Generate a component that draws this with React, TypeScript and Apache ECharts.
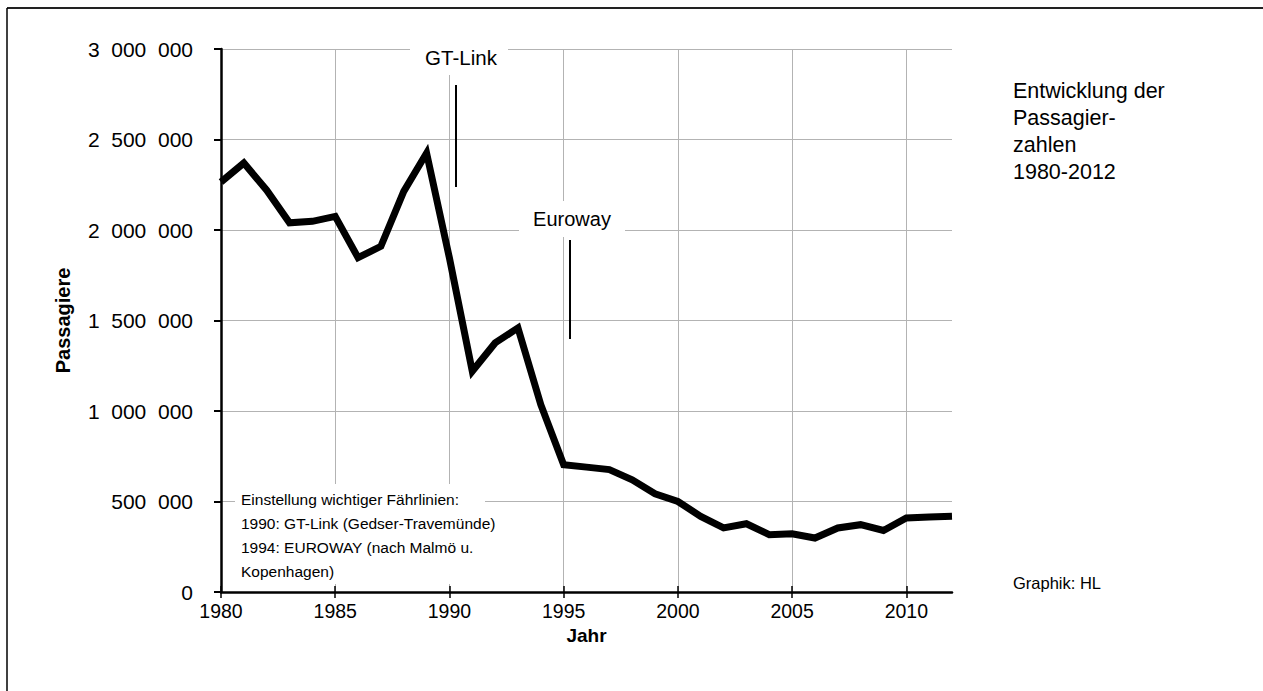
import React, { useEffect, useRef } from "react";
import * as echarts from "echarts";

const years: string[] = [
  "1980","1981","1982","1983","1984","1985","1986","1987","1988","1989",
  "1990","1991","1992","1993","1994","1995","1996","1997","1998","1999",
  "2000","2001","2002","2003","2004","2005","2006","2007","2008","2009",
  "2010","2011","2012",
];
const passengers: number[] = [
  2265000, 2370000, 2220000, 2040000, 2048000, 2075000, 1847000, 1910000, 2213000, 2425000,
  1845000, 1220000, 1376000, 1459000, 1035000, 703000, 690000, 676000, 620000, 543000,
  500000, 418000, 354000, 377000, 317000, 322000, 298000, 354000, 372000, 340000,
  409000, 414000, 418000,
];
const yTicks = { min: 0, max: 3000000, interval: 500000 };
const titleLines = ["Entwicklung der", "Passagier-", "zahlen", "1980-2012"];
const noteLines = [
  "Einstellung wichtiger Fährlinien:",
  "1990: GT-Link (Gedser-Travemünde)",
  "1994: EUROWAY (nach Malmö u.",
  "Kopenhagen)",
];
const credit = "Graphik: HL";
const xName = "Jahr";
const yName = "Passagiere";

const FONT = "'Liberation Sans', Arial, sans-serif";
const GAP = "\u00a0\u00a0";

function fmt(v: number): string {
  const s = String(Math.round(v));
  const parts: string[] = [];
  for (let i = s.length; i > 0; i -= 3) parts.unshift(s.slice(Math.max(0, i - 3), i));
  return parts.join(GAP);
}

export default function App() {
  const ref = useRef<HTMLDivElement>(null);
  useEffect(() => {
    document.body.style.margin = "0";
    const chart = echarts.init(ref.current!, undefined, { renderer: "svg" });
    const axisText = { color: "#000", fontFamily: FONT, fontSize: 19.5 };
    chart.setOption({
      animation: false,
      backgroundColor: "#fff",
      grid: { left: 221, right: 311, top: 49, bottom: 99, containLabel: false, outerBoundsMode: "none" },
      xAxis: [
        {
          type: "category",
          data: years,
          boundaryGap: false,
          name: xName,
          nameLocation: "middle",
          nameGap: 29,
          nameTextStyle: { ...axisText, fontSize: 19, fontWeight: "bold" },
          axisLine: { lineStyle: { color: "#000", width: 2.5 } },
          axisTick: { interval: 4, inside: false, length: 6, lineStyle: { color: "#000", width: 1.5 } },
          axisLabel: { interval: 4, margin: 9, ...axisText },
          splitLine: { show: true, interval: 4, lineStyle: { color: "#b3b3b3", width: 1 } },
        },
        {
          type: "category",
          data: years,
          boundaryGap: false,
          position: "bottom",
          axisLine: { show: false },
          axisTick: { interval: 4, inside: true, length: 6, lineStyle: { color: "#000", width: 1.5 } },
          axisLabel: { show: false },
          splitLine: { show: false },
        },
      ],
      yAxis: {
        type: "value",
        min: yTicks.min,
        max: yTicks.max,
        interval: yTicks.interval,
        name: yName,
        nameLocation: "middle",
        nameGap: 148,
        nameRotate: 90,
        nameTextStyle: { ...axisText, fontSize: 20, fontWeight: "bold" },
        axisLine: { show: true, lineStyle: { color: "#000", width: 2.5 } },
        axisTick: { show: true, inside: false, length: 7, lineStyle: { color: "#000", width: 2 } },
        axisLabel: { margin: 28, formatter: (v: number) => fmt(v), ...axisText, fontSize: 21 },
        splitLine: { show: true, lineStyle: { color: "#b3b3b3", width: 1 } },
      },
      series: [
        {
          type: "line",
          data: passengers,
          xAxisIndex: 0,
          symbol: "none",
          lineStyle: { color: "#000", width: 7, join: "miter", cap: "butt" },
          z: 3,
        },
      ],
      graphic: [
        { type: "line", z: 20, shape: { x1: 7, y1: 8, x2: 1263, y2: 8 }, style: { stroke: "#222", lineWidth: 2 } },
        { type: "line", z: 20, shape: { x1: 7, y1: 8, x2: 7, y2: 691 }, style: { stroke: "#000", lineWidth: 1.5 } },
        // GT-Link annotation
        { type: "rect", z: 10, shape: { x: 410, y: 38, width: 98, height: 37 }, style: { fill: "#fff" } },
        { type: "text", z: 11, x: 461, y: 57, style: { text: "GT-Link", fill: "#000", font: `20.5px ${FONT}`, textAlign: "center", textVerticalAlign: "middle" } },
        { type: "line", z: 11, shape: { x1: 456, y1: 85, x2: 456, y2: 187 }, style: { stroke: "#000", lineWidth: 2 } },
        // Euroway annotation
        { type: "rect", z: 10, shape: { x: 519, y: 201, width: 106, height: 36 }, style: { fill: "#fff" } },
        { type: "text", z: 11, x: 572, y: 219, style: { text: "Euroway", fill: "#000", font: `20px ${FONT}`, textAlign: "center", textVerticalAlign: "middle" } },
        { type: "line", z: 11, shape: { x1: 570, y1: 240, x2: 570, y2: 339 }, style: { stroke: "#000", lineWidth: 2 } },
        // note box
        { type: "rect", z: 10, shape: { x: 235, y: 484, width: 250, height: 100 }, style: { fill: "#fff" } },
        {
          type: "text", z: 11, x: 241, y: 487,
          style: { text: noteLines.join("\n"), fill: "#000", font: `15.5px ${FONT}`, lineHeight: 24, textVerticalAlign: "top" },
        },
        // right texts
        {
          type: "text", z: 11, x: 1013, y: 77,
          style: { text: titleLines.join("\n"), fill: "#000", font: `21.5px ${FONT}`, lineHeight: 27, textVerticalAlign: "top" },
        },
        { type: "text", z: 11, x: 1013, y: 583, style: { text: credit, fill: "#000", font: `16.5px ${FONT}`, textVerticalAlign: "middle" } },
      ],
    });
    return () => chart.dispose();
  }, []);
  return <div ref={ref} style={{ width: 1263, height: 691 }} />;
}
